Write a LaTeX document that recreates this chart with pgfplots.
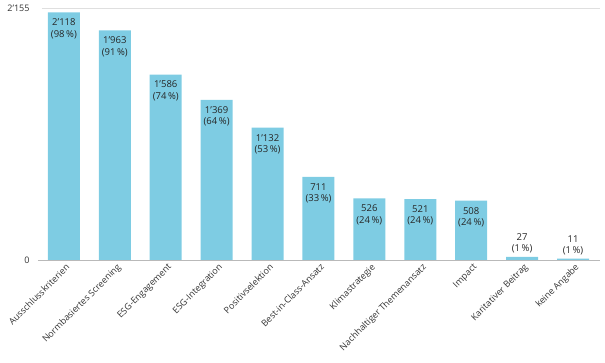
\documentclass[border=0pt]{standalone}
\usepackage{fontspec}
\setmainfont{Open Sans}
\usepackage{pgfplots}
\pgfplotsset{compat=1.18}
\definecolor{barblue}{RGB}{126,204,227}
\begin{document}
\begin{tikzpicture}
\begin{axis}[
 scale only axis, width=558pt, height=252pt,
 xmin=-0.43, xmax=10.53, ymin=0, ymax=2155,
 axis line style={draw=none},
 ytick={0,2155}, yticklabels={0,2’155},
 ymajorgrids, grid style={gray!25, line width=0.6pt},
 major tick length=0pt,
 xtick={0,...,10},
 xticklabels={Ausschlusskriterien,Normbasiertes Screening,ESG-Engagement,ESG-Integration,Positivselektion,Best-in-Class-Ansatz,Klimastrategie,Nachhaltiger Themenansatz,Impact,Karitativer Beitrag,keine Angabe},
 xticklabel style={rotate=45, anchor=north east, inner sep=1pt, yshift=-2pt},
 yticklabel style={xshift=-9pt},
 tick label style={font=\fontsize{9}{11}\selectfont, text=black!80},
 ybar, bar width=32pt, bar shift=0pt,
 nodes near coords, point meta=explicit symbolic,
 every node near coord/.append style={font=\fontsize{9.5}{11.5}\selectfont, align=center, text=black!85},
 clip=false,
]
\addplot[fill=barblue, draw=none, every node near coord/.append style={anchor=north, yshift=-3pt}] coordinates {
(0,2118) [{2’118\\(98\,\%)}]
(1,1963) [{1’963\\(91\,\%)}]
(2,1586) [{1’586\\(74\,\%)}]
(3,1369) [{1’369\\(64\,\%)}]
(4,1132) [{1’132\\(53\,\%)}]
(5,711) [{711\\(33\,\%)}]
(6,526) [{526\\(24\,\%)}]
(7,521) [{521\\(24\,\%)}]
(8,508) [{508\\(24\,\%)}]
};
\addplot[fill=barblue, draw=none, every node near coord/.append style={anchor=south}] coordinates {
(9,27) [{27\\(1\,\%)}]
(10,11) [{11\\(1\,\%)}]
};
\draw[gray!55, line width=0.7pt] (axis cs:-0.51,0) -- (axis cs:10.53,0);
\coordinate (O) at (axis cs:-0.43,0);
\end{axis}
\pgfresetboundingbox
\path (O) ++(-42pt,-102pt) rectangle ++(605pt,362pt);
\end{tikzpicture}
\end{document}
